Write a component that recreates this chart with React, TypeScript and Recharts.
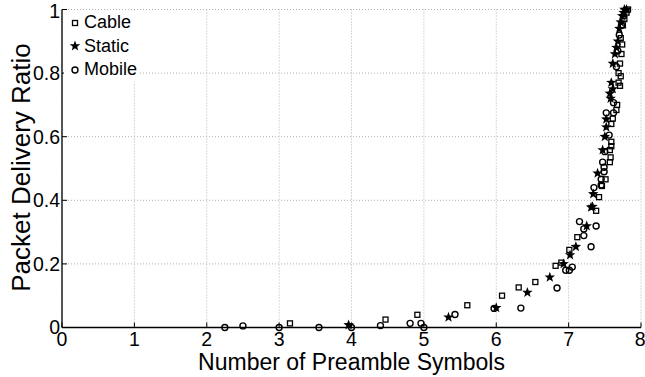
import { ScatterChart, Scatter, XAxis, YAxis, CartesianGrid, Legend, Label } from 'recharts';

const FONT = '"Liberation Sans", Arial, Helvetica, sans-serif';

const X_TICKS = [0, 1, 2, 3, 4, 5, 6, 7, 8];
const Y_TICKS = [0, 0.2, 0.4, 0.6, 0.8, 1];

// measured delivery ratio vs. preamble length, one array per setup
const cable = [
  { x: 3.15, y: 0.013 }, { x: 4.47, y: 0.025 }, { x: 4.91, y: 0.04 }, { x: 5.6, y: 0.07 },
  { x: 6.08, y: 0.1 }, { x: 6.31, y: 0.126 }, { x: 6.54, y: 0.143 }, { x: 6.82, y: 0.194 },
  { x: 6.9, y: 0.204 }, { x: 7.01, y: 0.244 }, { x: 7.12, y: 0.284 }, { x: 7.38, y: 0.367 },
  { x: 7.42, y: 0.41 }, { x: 7.46, y: 0.445 }, { x: 7.51, y: 0.466 }, { x: 7.57, y: 0.52 },
  { x: 7.58, y: 0.535 }, { x: 7.57, y: 0.558 }, { x: 7.59, y: 0.57 }, { x: 7.59, y: 0.584 },
  { x: 7.59, y: 0.64 }, { x: 7.61, y: 0.657 }, { x: 7.66, y: 0.684 }, { x: 7.67, y: 0.7 },
  { x: 7.69, y: 0.77 }, { x: 7.71, y: 0.76 }, { x: 7.72, y: 0.79 }, { x: 7.69, y: 0.8 },
  { x: 7.71, y: 0.83 }, { x: 7.73, y: 0.86 }, { x: 7.74, y: 0.89 }, { x: 7.72, y: 0.91 },
  { x: 7.75, y: 0.95 }, { x: 7.77, y: 0.97 }, { x: 7.8, y: 0.99 }, { x: 7.82, y: 1.0 },
];

const staticNode = [
  { x: 3.96, y: 0.008 }, { x: 5.34, y: 0.032 }, { x: 6.0, y: 0.062 }, { x: 6.43, y: 0.11 },
  { x: 6.74, y: 0.158 }, { x: 6.93, y: 0.2 }, { x: 7.02, y: 0.228 }, { x: 7.1, y: 0.254 },
  { x: 7.25, y: 0.319 }, { x: 7.31, y: 0.378 }, { x: 7.33, y: 0.38 }, { x: 7.34, y: 0.42 },
  { x: 7.4, y: 0.485 }, { x: 7.47, y: 0.558 }, { x: 7.5, y: 0.6 }, { x: 7.52, y: 0.63 },
  { x: 7.52, y: 0.655 }, { x: 7.57, y: 0.736 }, { x: 7.58, y: 0.72 }, { x: 7.59, y: 0.77 },
  { x: 7.61, y: 0.75 }, { x: 7.61, y: 0.83 }, { x: 7.64, y: 0.86 }, { x: 7.66, y: 0.88 },
  { x: 7.68, y: 0.9 }, { x: 7.7, y: 0.94 }, { x: 7.72, y: 0.96 }, { x: 7.74, y: 0.98 },
  { x: 7.76, y: 0.99 }, { x: 7.77, y: 1.0 }, { x: 7.8, y: 1.0 },
];

const mobile = [
  { x: 2.25, y: 0 }, { x: 2.5, y: 0.005 }, { x: 3.0, y: 0 }, { x: 3.55, y: 0 },
  { x: 4.0, y: 0 }, { x: 4.4, y: 0.006 }, { x: 4.81, y: 0.013 }, { x: 4.96, y: 0.013 },
  { x: 5.0, y: 0 }, { x: 5.43, y: 0.041 }, { x: 5.97, y: 0.06 }, { x: 6.34, y: 0.061 },
  { x: 6.84, y: 0.124 }, { x: 6.96, y: 0.18 }, { x: 7.01, y: 0.18 }, { x: 7.05, y: 0.19 },
  { x: 7.15, y: 0.333 }, { x: 7.21, y: 0.289 }, { x: 7.21, y: 0.31 }, { x: 7.31, y: 0.254 },
  { x: 7.38, y: 0.319 }, { x: 7.35, y: 0.44 }, { x: 7.45, y: 0.448 }, { x: 7.45, y: 0.466 },
  { x: 7.49, y: 0.49 }, { x: 7.49, y: 0.504 }, { x: 7.47, y: 0.52 }, { x: 7.5, y: 0.553 },
  { x: 7.56, y: 0.605 }, { x: 7.52, y: 0.675 }, { x: 7.62, y: 0.675 }, { x: 7.62, y: 0.707 },
  { x: 7.66, y: 0.82 }, { x: 7.68, y: 0.87 }, { x: 7.7, y: 0.92 }, { x: 7.73, y: 0.95 },
  { x: 7.76, y: 0.98 },
];

function starPath(cx: number, cy: number, ro: number, ri: number) {
  let d = '';
  for (let i = 0; i < 10; i++) {
    const r = i % 2 === 0 ? ro : ri;
    const a = -Math.PI / 2 + (i * Math.PI) / 5;
    d += (i === 0 ? 'M' : 'L') + (cx + r * Math.cos(a)).toFixed(2) + ',' + (cy + r * Math.sin(a)).toFixed(2);
  }
  return d + 'Z';
}

const SquareDot = (p: any) => (
  <rect x={p.cx - 2.5} y={p.cy - 2.5} width={5} height={5} fill="none" stroke="#000" strokeWidth={1.3} />
);
const StarDot = (p: any) => <path d={starPath(p.cx, p.cy, 5.5, 2.3)} fill="#000" />;
const CircleDot = (p: any) => <circle cx={p.cx} cy={p.cy} r={3} fill="none" stroke="#000" strokeWidth={1.4} />;

const legendItems = [
  { name: 'Cable', icon: <rect x={3.5} y={3.5} width={5} height={5} fill="none" stroke="#000" strokeWidth={1.3} /> },
  { name: 'Static', icon: <path d={starPath(6, 6, 5.5, 2.3)} fill="#000" /> },
  { name: 'Mobile', icon: <circle cx={6} cy={6} r={3} fill="none" stroke="#000" strokeWidth={1.4} /> },
];

const renderLegend = () => (
  <div style={{ background: '#fff', paddingLeft: 5, fontFamily: FONT, fontSize: 18, color: '#000' }}>
    {legendItems.map(item => (
      <div key={item.name} style={{ display: 'flex', alignItems: 'center', height: 23.5 }}>
        <svg width={12} height={12} style={{ marginRight: 3 }}>{item.icon}</svg>
        <span>{item.name}</span>
      </div>
    ))}
  </div>
);

const tickStyle = { fill: '#000', fontSize: 19.5, fontFamily: FONT };
const emptyTick = () => <g />;

export default function App() {
  return (
    <div style={{ position: 'absolute', left: 0, top: 0, background: '#fff' }}>
      <ScatterChart width={645} height={377} margin={{ top: 9.5, right: 4, bottom: 0, left: 0 }}>
        <CartesianGrid stroke="#b0b0b0" strokeDasharray="1 2" />
        <XAxis
          dataKey="x" type="number" domain={[0, 8]} ticks={X_TICKS} height={49.5}
          tickSize={-5} tickMargin={10} tick={tickStyle}
          axisLine={{ stroke: '#000', strokeWidth: 1.5 }} tickLine={{ stroke: '#000' }}
        >
          <Label
            value="Number of Preamble Symbols" position="insideBottom" offset={7}
            style={{ fill: '#000', fontSize: 23, fontFamily: FONT }}
          />
        </XAxis>
        <YAxis
          dataKey="y" type="number" domain={[0, 1]} ticks={Y_TICKS} width={62}
          tickSize={-5} tickMargin={7} tick={tickStyle}
          axisLine={{ stroke: '#000', strokeWidth: 1.3 }} tickLine={{ stroke: '#000' }}
        >
          <Label
            content={(props: any) => {
              const vb = props.viewBox;
              const cx = vb.x + 21;
              const cy = vb.y + vb.height / 2 - 1;
              return (
                <text x={cx} y={cy} transform={`rotate(-90 ${cx} ${cy})`} textAnchor="middle"
                  dominantBaseline="central" fill="#000" fontSize={26} fontFamily={FONT}>
                  Packet Delivery Ratio
                </text>
              );
            }}
          />
        </YAxis>
        <XAxis
          xAxisId="top" orientation="top" type="number" domain={[0, 8]} ticks={X_TICKS} height={0}
          mirror tickSize={5} tick={emptyTick}
          axisLine={{ stroke: '#000', strokeWidth: 1.3 }} tickLine={{ stroke: '#000' }}
        />
        <YAxis
          yAxisId="right" orientation="right" type="number" domain={[0, 1]} ticks={Y_TICKS} width={0}
          mirror tickSize={5} tick={emptyTick}
          axisLine={{ stroke: '#000', strokeWidth: 1.3 }} tickLine={{ stroke: '#000' }}
        />
        <Legend
          layout="vertical" align="center" verticalAlign="middle" content={renderLegend}
          wrapperStyle={{ left: 64, top: 11, width: 75, height: 70 }}
        />
        <Scatter name="Cable" data={cable} shape={SquareDot} isAnimationActive={false} />
        <Scatter name="Static" data={staticNode} shape={StarDot} isAnimationActive={false} />
        <Scatter name="Mobile" data={mobile} shape={CircleDot} isAnimationActive={false} />
      </ScatterChart>
    </div>
  );
}
